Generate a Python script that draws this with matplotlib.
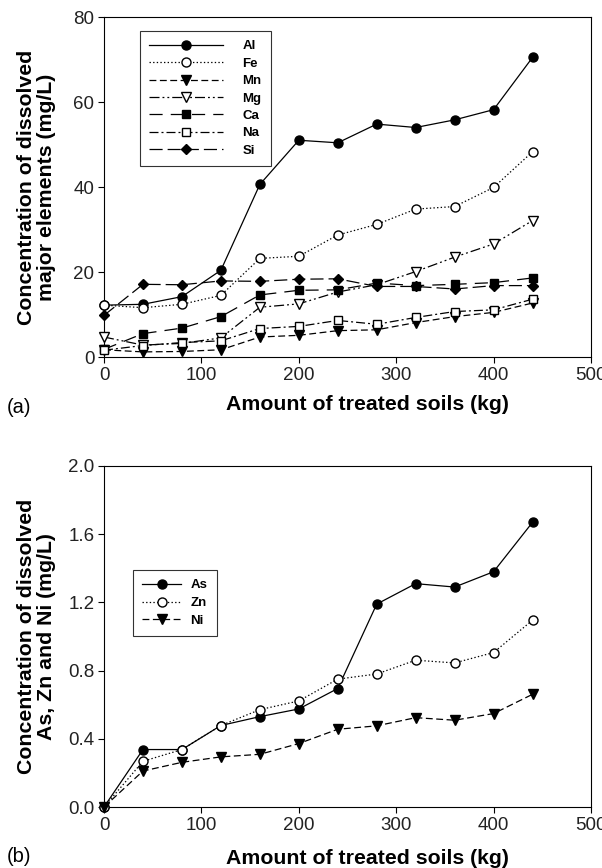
import matplotlib
matplotlib.use("Agg")
import matplotlib.pyplot as plt

plt.rcParams['font.family'] = ['Liberation Sans', 'DejaVu Sans']

x_kg = [0, 40, 80, 120, 160, 200, 240, 280, 320, 360, 400, 440]

al = [12.2, 12.4, 14.2, 20.4, 40.6, 51.0, 50.4, 54.8, 54.0, 55.8, 58.2, 70.5]
fe = [12.2, 11.6, 12.4, 14.5, 23.2, 23.7, 28.7, 31.2, 34.8, 35.4, 39.9, 48.3]
mn = [1.7, 1.2, 1.3, 1.7, 4.7, 5.1, 6.2, 6.4, 8.1, 9.5, 10.5, 12.7]
mg = [4.7, 2.8, 3.2, 4.5, 11.7, 12.5, 15.3, 17.0, 20.1, 23.5, 26.6, 32.1]
ca = [1.8, 5.5, 6.8, 9.5, 14.6, 15.7, 15.8, 17.4, 16.8, 17.1, 17.5, 18.6]
na = [1.6, 2.7, 3.4, 3.8, 6.7, 7.2, 8.6, 7.7, 9.3, 10.7, 11.1, 13.6]
si = [9.8, 17.1, 17.0, 17.9, 17.8, 18.3, 18.4, 16.6, 16.6, 16.0, 16.8, 16.8]

as_ = [0.0, 0.337, 0.337, 0.478, 0.530, 0.575, 0.695, 1.19, 1.31, 1.29, 1.38, 1.67]
zn = [0.0, 0.268, 0.337, 0.478, 0.571, 0.622, 0.75, 0.78, 0.861, 0.845, 0.906, 1.096]
ni = [0.0, 0.211, 0.262, 0.294, 0.309, 0.372, 0.456, 0.476, 0.524, 0.509, 0.548, 0.661]

xticks = [0, 100, 200, 300, 400, 500]
yticks_a = [0, 20, 40, 60, 80]
yticks_b = [0.0, 0.4, 0.8, 1.2, 1.6, 2.0]
yticklabels_b = ['0.0', '0.4', '0.8', '1.2', '1.6', '2.0']

W, H = 602, 868
fig = plt.figure(figsize=(W / 100, H / 100), dpi=100)

def frac_axes(l, r, t, b):
    return fig.add_axes([l / W, 1 - b / H, (r - l) / W, (b - t) / H])

ax1 = frac_axes(104, 591, 17, 357)
ax2 = frac_axes(104, 591, 466, 807)

ms = 6.5
lw = 0.9
DOT = (0, (1.1, 1.8))
series_a = [
    ('Al', al, dict(linestyle='-', marker='o', mfc='black')),
    ('Fe', fe, dict(linestyle=DOT, marker='o', mfc='white')),
    ('Mn', mn, dict(linestyle=(0, (5.5, 2.8)), marker='v', mfc='black')),
    ('Mg', mg, dict(linestyle=(0, (8, 2.4, 1.5, 2.4, 1.5, 2.4)), marker='v', mfc='white')),
    ('Ca', ca, dict(linestyle=(0, (10.5, 6.5)), marker='s', mfc='black')),
    ('Na', na, dict(linestyle=(0, (7.2, 2.4, 1.6, 2.4)), marker='s', mfc='white')),
    ('Si', si, dict(linestyle=(0, (10.5, 4)), marker='D', mfc='black')),
]
for name, vals, st in series_a:
    m = st['marker']
    size = ms - 1 if m in ('s', 'D') else ms
    ax1.plot(x_kg, vals, color='black', lw=lw, linestyle=st['linestyle'],
             marker=m, markersize=size, markerfacecolor=st['mfc'],
             markeredgecolor='black', markeredgewidth=1.0, label=name,
             clip_on=False, zorder=3)

series_b = [
    ('As', as_, dict(linestyle='-', marker='o', mfc='black')),
    ('Zn', zn, dict(linestyle=DOT, marker='o', mfc='white')),
    ('Ni', ni, dict(linestyle=(0, (5.5, 2.8)), marker='v', mfc='black')),
]
for name, vals, st in series_b:
    ax2.plot(x_kg, vals, color='black', lw=lw, linestyle=st['linestyle'],
             marker=st['marker'], markersize=ms, markerfacecolor=st['mfc'],
             markeredgecolor='black', markeredgewidth=1.0, label=name,
             clip_on=False, zorder=3)

for ax in (ax1, ax2):
    ax.set_xlim(0, 500)
    ax.set_xticks(xticks)
    ax.tick_params(direction='out', length=4, width=0.8, labelsize=13.5, pad=3,
                   colors='black', labelcolor='#222222')
    for s in ax.spines.values():
        s.set_linewidth(0.8)
    ax.set_xlabel('Amount of treated soils (kg)', fontsize=15.3, fontweight='bold')

ax1.xaxis.set_label_coords(0.54, -0.113)
ax2.xaxis.set_label_coords(0.54, -0.122)

ax1.set_ylim(0, 80)
ax1.set_yticks(yticks_a)
ax2.set_ylim(0, 2.0)
ax2.set_yticks(yticks_b)
ax2.set_yticklabels(yticklabels_b)

ax1.set_ylabel('Concentration of dissolved\nmajor elements (mg/L)', fontsize=15.3,
               fontweight='bold', linespacing=1.08)
ax2.set_ylabel('Concentration of dissolved\nAs, Zn and Ni (mg/L)', fontsize=15.3,
               fontweight='bold', linespacing=1.08)
for ax in (ax1, ax2):
    ax.yaxis.set_label_coords(-0.098, 0.5)

leg1 = ax1.legend(loc='upper left', bbox_to_anchor=(0.074, 0.959), handlelength=5.6,
                  handletextpad=1.45, prop={'weight': 'bold', 'size': 9.5},
                  frameon=True, fancybox=False, edgecolor='black', borderpad=0.7,
                  labelspacing=0.39, borderaxespad=0)
leg1.get_frame().set_linewidth(0.8)

leg2 = ax2.legend(loc='upper left', bbox_to_anchor=(0.06, 0.695), handlelength=2.9,
                  handletextpad=0.75, prop={'weight': 'bold', 'size': 9.5},
                  frameon=True, fancybox=False, edgecolor='black', borderpad=0.7,
                  labelspacing=0.42, borderaxespad=0)
leg2.get_frame().set_linewidth(0.8)

fig.text(7 / W, 1 - 408 / H, '(a)', fontsize=14.5, va='center', ha='left')
fig.text(7 / W, 1 - 857 / H, '(b)', fontsize=14.5, va='center', ha='left')

fig.savefig('out.png', dpi=100)
